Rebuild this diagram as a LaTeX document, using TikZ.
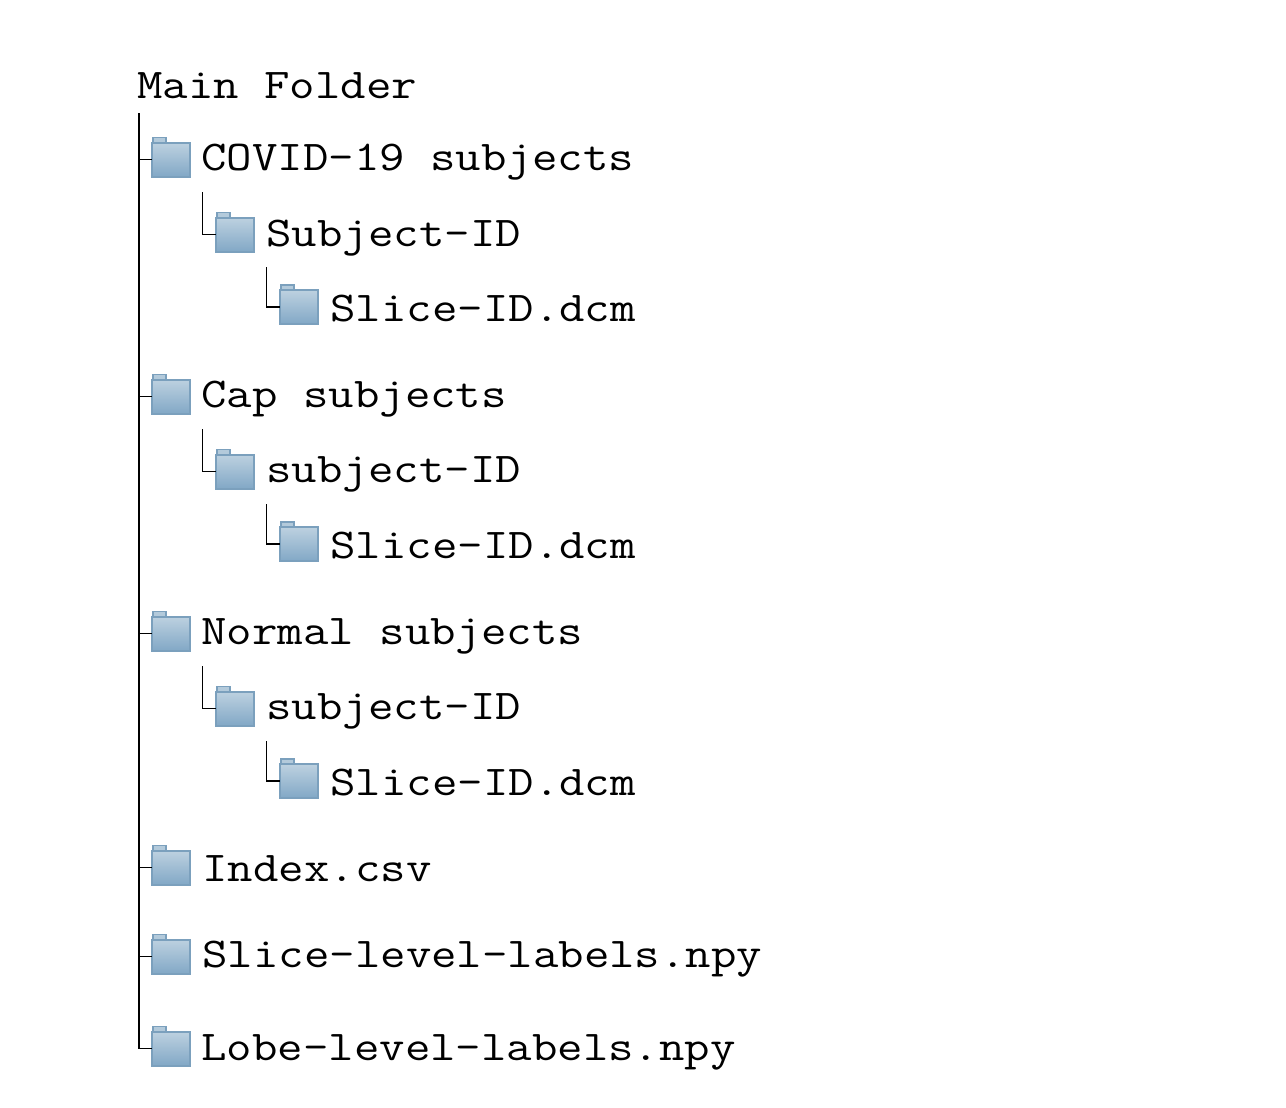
\documentclass[tikz,border=0pt]{standalone}
\usepackage{fontspec}
\setmainfont{Latin Modern Mono}[FakeStretch=1.165]
\usetikzlibrary{calc}
\definecolor{fedge}{HTML}{7BA0BD}
\definecolor{ftop}{HTML}{BDD1E0}
\definecolor{fbot}{HTML}{82A8C6}
\tikzset{
  x=1pt,y=-1pt,
  label text/.style={anchor=base west,inner sep=0pt,outer sep=0pt,font=\fontsize{42.4}{50}\selectfont,text=black},
  folder body/.style={rectangle,inner sep=0pt,outer sep=0pt,minimum width=38.5pt,minimum height=34pt,draw=fedge,line width=2pt,top color=ftop,bottom color=fbot},
  folder tab/.style={rectangle,inner sep=0pt,outer sep=0pt,minimum width=13pt,minimum height=5pt,draw=fedge,line width=1.4pt,fill=ftop!85!fedge},
  trunk/.style={draw=black,line width=1.8pt},
  branch/.style={draw=black,line width=1.2pt},
}
\newcommand{\folderat}[3]{% name, left x, centre y
  \node[folder tab,anchor=south west] (#1t) at (#2+2,#3-17) {};
  \node[folder body] (#1) at (#2+20,#3) {};
}
\begin{document}
\begin{tikzpicture}
\useasboundingbox (0,0) rectangle (1286,1108);
\fill[white] (0,0) rectangle (1286,1108);
\node[label text] (main) at (137.2,98.5) {Main Folder};
\coordinate (top) at (139,113);

\folderat{a}{151}{159.5}
\node[label text] (ta) at (201.5,170.5) {COVID-19 subjects};
\folderat{aa}{215}{234.5}
\node[label text] (taa) at (266.5,246.7) {Subject-ID};
\folderat{aaa}{279}{307}
\node[label text] (taaa) at (330.5,321.8) {Slice-ID.dcm};

\folderat{b}{151}{396.5}
\node[label text] (tb) at (201.5,407.7) {Cap subjects};
\folderat{bb}{215}{471.5}
\node[label text] (tbb) at (266.5,482.7) {subject-ID};
\folderat{bbb}{279}{544}
\node[label text] (tbbb) at (330.5,558.5) {Slice-ID.dcm};

\folderat{c}{151}{633.5}
\node[label text] (tc) at (201.5,644.7) {Normal subjects};
\folderat{cc}{215}{708.5}
\node[label text] (tcc) at (266.5,719.7) {subject-ID};
\folderat{ccc}{279}{781}
\node[label text] (tccc) at (330.5,795.5) {Slice-ID.dcm};

\folderat{d}{151}{867.5}
\node[label text] (td) at (202.5,881.5) {Index.csv};
\folderat{e}{151}{956.5}
\node[label text] (te) at (202.5,967.5) {Slice-level-labels.npy};
\folderat{f}{151}{1048.5}
\node[label text] (tf) at (201.5,1060.5) {Lobe-level-labels.npy};

\draw[trunk] (top) |- (f.west);
\foreach \n in {a,b,c,d,e}{
  \draw[branch] (top |- \n.west) -- (\n.west);
}
\coordinate (sa) at (202.7,192);
\coordinate (saa) at (266.5,267);
\coordinate (sb) at (202.7,429);
\coordinate (sbb) at (266.5,504);
\coordinate (sc) at (202.7,666);
\coordinate (scc) at (266.5,741);
\foreach \s/\n in {sa/aa,saa/aaa,sb/bb,sbb/bbb,sc/cc,scc/ccc}{
  \draw[branch] (\s) |- (\n.west);
}
\end{tikzpicture}
\end{document}
